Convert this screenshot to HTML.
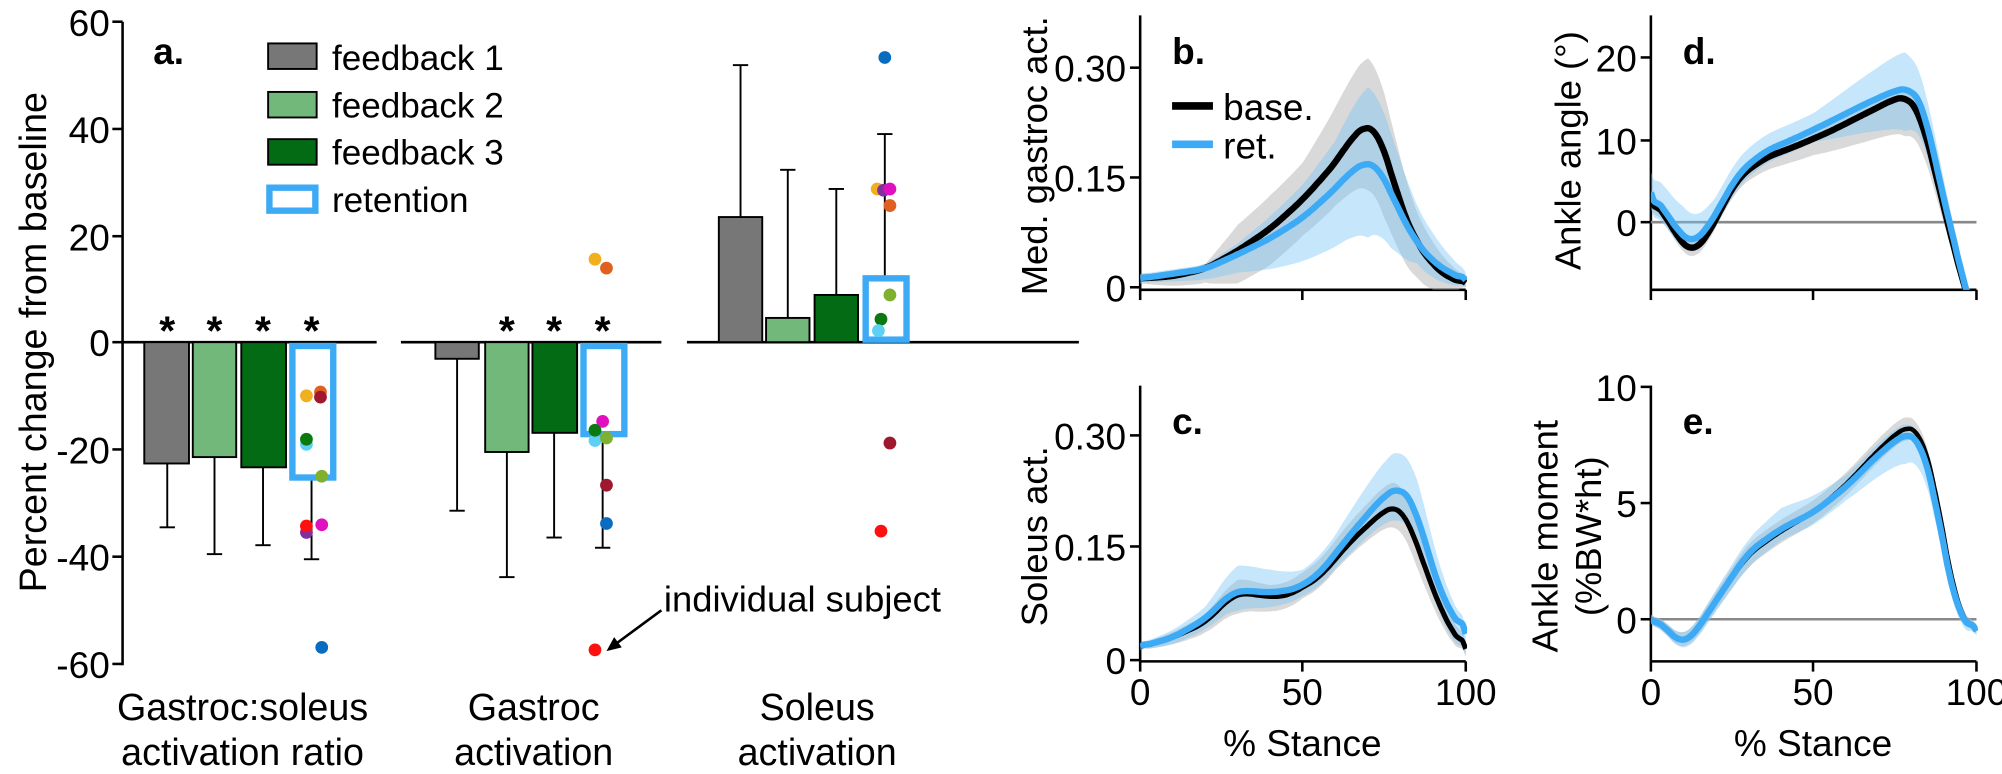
<!DOCTYPE html>
<html><head><meta charset="utf-8"><style>
html,body{margin:0;padding:0;background:#fff;}
svg{display:block;font-family:"Liberation Sans",sans-serif;}
.n{font-family:"Liberation Sans Narrow","Liberation Sans",sans-serif;}
</style></head><body>
<svg id="s" width="2002" height="774" viewBox="0 0 1568 606.2" preserveAspectRatio="none" xmlns="http://www.w3.org/2000/svg">
<defs>
<clipPath id="cb"><rect x="893" y="10" width="256" height="217"/></clipPath>
<clipPath id="cc"><rect x="893" y="300" width="256" height="219"/></clipPath>
<clipPath id="cd"><rect x="1293" y="10" width="256" height="217"/></clipPath>
<clipPath id="ce"><rect x="1293" y="290" width="256" height="229"/></clipPath>
</defs>
<g stroke="#000" stroke-width="2" fill="none">
<line x1="96" y1="17" x2="96" y2="521"/>
<line x1="88" y1="17" x2="96" y2="17"/><line x1="88" y1="101" x2="96" y2="101"/><line x1="88" y1="185" x2="96" y2="185"/><line x1="88" y1="268" x2="96" y2="268"/><line x1="88" y1="352" x2="96" y2="352"/><line x1="88" y1="436" x2="96" y2="436"/><line x1="88" y1="520" x2="96" y2="520"/>
<line x1="96" y1="268" x2="295" y2="268"/><line x1="314" y1="268" x2="518" y2="268"/><line x1="538" y1="268" x2="845" y2="268"/>
</g>
<g font-size="29" text-anchor="end">
<text x="86" y="28">60</text><text x="86" y="112">40</text><text x="86" y="196">20</text><text x="86" y="279">0</text><text x="86" y="363">-20</text><text x="86" y="447">-40</text><text x="86" y="531">-60</text>
</g>
<text transform="translate(36,268) rotate(-90)" font-size="29.5" text-anchor="middle">Percent change from baseline</text>
<text x="120" y="50" font-size="29" font-weight="bold">a.</text>
<g stroke="#000" stroke-width="1.5">
<rect x="210" y="34" width="38" height="20" fill="#777"/>
<rect x="210" y="72" width="38" height="20" fill="#72b87a"/>
<rect x="210" y="109" width="38" height="20" fill="#046b15"/>
</g>
<rect x="211" y="147" width="36" height="18" fill="#fff" stroke="#3daaf5" stroke-width="5"/>
<g font-size="27.5"><text x="260" y="55">feedback 1</text><text x="260" y="92">feedback 2</text><text x="260" y="129">feedback 3</text><text x="260" y="166">retention</text></g>
<g stroke="#000" stroke-width="1.5">
<line x1="131" y1="363" x2="131" y2="413"/><line x1="125" y1="413" x2="137" y2="413"/>
<line x1="168" y1="358" x2="168" y2="434"/><line x1="162" y1="434" x2="174" y2="434"/>
<line x1="206" y1="366" x2="206" y2="427"/><line x1="200" y1="427" x2="212" y2="427"/>
<line x1="244" y1="375" x2="244" y2="438"/><line x1="238" y1="438" x2="250" y2="438"/>
<line x1="358" y1="281" x2="358" y2="400"/><line x1="352" y1="400" x2="364" y2="400"/>
<line x1="397" y1="354" x2="397" y2="452"/><line x1="391" y1="452" x2="403" y2="452"/>
<line x1="434" y1="339" x2="434" y2="421"/><line x1="428" y1="421" x2="440" y2="421"/>
<line x1="472" y1="341" x2="472" y2="429"/><line x1="466" y1="429" x2="478" y2="429"/>
<line x1="580" y1="170" x2="580" y2="51"/><line x1="574" y1="51" x2="586" y2="51"/>
<line x1="617" y1="249" x2="617" y2="133"/><line x1="611" y1="133" x2="623" y2="133"/>
<line x1="655" y1="231" x2="655" y2="148"/><line x1="649" y1="148" x2="661" y2="148"/>
<line x1="693" y1="216" x2="693" y2="105"/><line x1="687" y1="105" x2="699" y2="105"/>
</g>
<g stroke="#000" stroke-width="1.5">
<rect x="113" y="268" width="35" height="95" fill="#777"/>
<rect x="151" y="268" width="34" height="90" fill="#72b87a"/>
<rect x="189" y="268" width="35" height="98" fill="#046b15"/>
<rect x="341" y="268" width="34" height="13" fill="#777"/>
<rect x="380" y="268" width="34" height="86" fill="#72b87a"/>
<rect x="417" y="268" width="35" height="71" fill="#046b15"/>
<rect x="563" y="170" width="34" height="98" fill="#777"/>
<rect x="600" y="249" width="34" height="19" fill="#72b87a"/>
<rect x="638" y="231" width="34" height="37" fill="#046b15"/>
</g>
<g fill="none" stroke="#3daaf5" stroke-width="5">
<rect x="229" y="271" width="32" height="103"/>
<rect x="457" y="271" width="32" height="69"/>
<rect x="678" y="218" width="32" height="48"/>
</g>
<g font-size="32" text-anchor="middle" font-weight="bold">
<text x="131" y="270">*</text><text x="168" y="270">*</text><text x="206" y="270">*</text><text x="244" y="270">*</text>
<text x="397" y="270">*</text><text x="434" y="270">*</text><text x="472" y="270">*</text>
</g>
<g>
<circle cx="240" cy="310" r="5" fill="#f0b020"/><circle cx="251" cy="307" r="5" fill="#e06020"/><circle cx="251" cy="311" r="5" fill="#a01830"/>
<circle cx="240" cy="348" r="5" fill="#5fd0f5"/><circle cx="240" cy="344" r="5" fill="#0a7a10"/><circle cx="252" cy="373" r="5" fill="#80b030"/>
<circle cx="240" cy="417" r="5" fill="#8030a0"/><circle cx="240" cy="412" r="5" fill="#ff1010"/><circle cx="252" cy="411" r="5" fill="#e010c0"/>
<circle cx="252" cy="507" r="5" fill="#0a6cc0"/>
<circle cx="466" cy="203" r="5" fill="#f0b020"/><circle cx="475" cy="210" r="5" fill="#e06020"/><circle cx="472" cy="330" r="5" fill="#e010c0"/>
<circle cx="466" cy="345" r="5" fill="#5fd0f5"/><circle cx="475" cy="343" r="5" fill="#80b030"/><circle cx="466" cy="337" r="5" fill="#0a7a10"/>
<circle cx="475" cy="380" r="5" fill="#a01830"/><circle cx="475" cy="410" r="5" fill="#0a6cc0"/><circle cx="466" cy="509" r="5" fill="#ff1010"/>
<circle cx="693" cy="45" r="5" fill="#0a6cc0"/><circle cx="687" cy="148" r="5" fill="#f0b020"/><circle cx="692" cy="149" r="5" fill="#8030a0"/><circle cx="697" cy="148" r="5" fill="#e010c0"/>
<circle cx="697" cy="161" r="5" fill="#e06020"/><circle cx="697" cy="231" r="5" fill="#80b030"/><circle cx="690" cy="250" r="5" fill="#0a7a10"/><circle cx="688" cy="259" r="5" fill="#5fd0f5"/>
<circle cx="697" cy="347" r="5" fill="#a01830"/><circle cx="690" cy="416" r="5" fill="#ff1010"/>
</g>
<line x1="518" y1="478" x2="480" y2="506" stroke="#000" stroke-width="2"/>
<polygon points="475,510 481,499 487,507" fill="#000"/>
<text x="520" y="479" font-size="28.5">individual subject</text>
<g font-size="29.5" text-anchor="middle">
<text x="190" y="564">Gastroc:soleus</text><text x="190" y="599">activation ratio</text>
<text x="418" y="564">Gastroc</text><text x="418" y="599">activation</text>
<text x="640" y="564">Soleus</text><text x="640" y="599">activation</text>
</g>
<g stroke="#000" stroke-width="2" fill="none">
<line x1="893" y1="12" x2="893" y2="227"/><line x1="893" y1="227" x2="1148" y2="227"/>
<line x1="885" y1="53" x2="893" y2="53"/><line x1="885" y1="139" x2="893" y2="139"/><line x1="885" y1="225" x2="893" y2="225"/>
<line x1="893" y1="227" x2="893" y2="235"/><line x1="1020" y1="227" x2="1020" y2="235"/><line x1="1148" y1="227" x2="1148" y2="235"/>
<line x1="893" y1="302" x2="893" y2="518"/><line x1="893" y1="518" x2="1148" y2="518"/>
<line x1="885" y1="341" x2="893" y2="341"/><line x1="885" y1="428" x2="893" y2="428"/><line x1="885" y1="517" x2="893" y2="517"/>
<line x1="893" y1="518" x2="893" y2="526"/><line x1="1020" y1="518" x2="1020" y2="526"/><line x1="1148" y1="518" x2="1148" y2="526"/>
<line x1="1293" y1="12" x2="1293" y2="227"/><line x1="1293" y1="227" x2="1548" y2="227"/>
<line x1="1285" y1="45" x2="1293" y2="45"/><line x1="1285" y1="110" x2="1293" y2="110"/><line x1="1285" y1="174" x2="1293" y2="174"/>
<line x1="1293" y1="227" x2="1293" y2="235"/><line x1="1420" y1="227" x2="1420" y2="235"/><line x1="1548" y1="227" x2="1548" y2="235"/>
<line x1="1293" y1="302" x2="1293" y2="518"/><line x1="1293" y1="518" x2="1548" y2="518"/>
<line x1="1285" y1="303" x2="1293" y2="303"/><line x1="1285" y1="394" x2="1293" y2="394"/><line x1="1285" y1="485" x2="1293" y2="485"/>
<line x1="1293" y1="518" x2="1293" y2="526"/><line x1="1420" y1="518" x2="1420" y2="526"/><line x1="1548" y1="518" x2="1548" y2="526"/>
</g>
<g stroke="#888" stroke-width="2"><line x1="1293" y1="174" x2="1548" y2="174"/><line x1="1293" y1="485" x2="1548" y2="485"/></g>
<g class="n" font-size="29" text-anchor="end">
<text x="882" y="64">0.30</text><text x="882" y="150">0.15</text><text x="882" y="236">0</text>
<text x="882" y="352">0.30</text><text x="882" y="439">0.15</text><text x="882" y="528">0</text>
<text x="1282" y="56">20</text><text x="1282" y="121">10</text><text x="1282" y="185">0</text>
<text x="1282" y="314">10</text><text x="1282" y="405">5</text><text x="1282" y="496">0</text>
</g>
<g class="n" font-size="29" text-anchor="middle">
<text x="893" y="552">0</text><text x="1020" y="552">50</text><text x="1148" y="552">100</text>
<text x="1293" y="552">0</text><text x="1420" y="552">50</text><text x="1548" y="552">100</text>
<text x="1020" y="592">% Stance</text><text x="1420" y="592">% Stance</text>
</g>
<g font-size="28.5" text-anchor="middle">
<text transform="translate(820,122) rotate(-90)">Med. gastroc act.</text>
<text transform="translate(820,420) rotate(-90)">Soleus act.</text>
<text transform="translate(1238,118) rotate(-90)">Ankle angle (°)</text>
<text transform="translate(1220,420) rotate(-90)">Ankle moment</text>
<text transform="translate(1254,420) rotate(-90)">(%BW*ht)</text>
</g>
<g font-size="29" font-weight="bold"><text x="918" y="50">b.</text><text x="918" y="340">c.</text><text x="1318" y="50">d.</text><text x="1318" y="340">e.</text></g>
<line x1="918" y1="83" x2="950" y2="83" stroke="#000" stroke-width="6"/>
<line x1="918" y1="113" x2="950" y2="113" stroke="#3daaf5" stroke-width="6"/>
<g class="n" font-size="29"><text x="958" y="94">base.</text><text x="958" y="124">ret.</text></g>
<g id="curves"></g>
</svg>
<script>
function interp(arr,x){for(let i=0;i<arr.length-1;i++){if(x<=arr[i+1][0]){const t=(x-arr[i][0])/(arr[i+1][0]-arr[i][0]);return arr[i][1]+t*(arr[i+1][1]-arr[i][1]);}}return arr[arr.length-1][1];}
function cr(pts){let d="M"+pts[0][0].toFixed(1)+","+pts[0][1].toFixed(1);for(let i=0;i<pts.length-1;i++){const p0=pts[Math.max(0,i-1)],p1=pts[i],p2=pts[i+1],p3=pts[Math.min(pts.length-1,i+2)];const c1=[p1[0]+(p2[0]-p0[0])/6,p1[1]+(p2[1]-p0[1])/6],c2=[p2[0]-(p3[0]-p1[0])/6,p2[1]-(p3[1]-p1[1])/6];d+="C"+c1.map(v=>v.toFixed(1)).join(",")+" "+c2.map(v=>v.toFixed(1)).join(",")+" "+p2.map(v=>v.toFixed(1)).join(",");}return d;}
function smooth(arr){const out=[];for(let x=0;x<=100;x+=1){out.push([x,interp(arr,x)]);}
const s=out.map((p,i)=>{let a=0,n=0;for(let k=-3;k<=3;k++){const j=i+k;if(j>=0&&j<out.length){a+=out[j][1];n++;}}return [p[0],a/n];});s[0]=out[0];s[100]=out[100];return s;}
const g=document.getElementById("curves");let html="";
function panel(clip,x0,x1,yf,base,ret,bu,bl,ru,rl,bw){
 const X=p=>x0+p/100*(x1-x0);
 const tp=a=>a.map(p=>[X(p[0]),yf(p[1])]);
 const b=smooth(base),r=smooth(ret);
 function band(c,u,l,fill){const up=c.map(p=>[p[0],p[1]+interp(u,p[0])]),lo=c.map(p=>[p[0],p[1]-interp(l,p[0])]).reverse();const a=tp(up),bb=tp(lo);html+=`<path clip-path="url(#${clip})" d="${cr(a)} L${bb[0][0].toFixed(1)},${bb[0][1].toFixed(1)} ${cr(bb).slice(1).replace(/^[^C]*/,'')}Z" fill="${fill}"/>`;}
 band(b,bu,bl,"rgba(170,170,170,0.45)");
 band(r,ru,rl,"rgba(120,195,245,0.42)");
 html+=`<path clip-path="url(#${clip})" d="${cr(tp(b))}" fill="none" stroke="#000" stroke-width="${bw}"/>`;
 html+=`<path clip-path="url(#${clip})" d="${cr(tp(r))}" fill="none" stroke="#3daaf5" stroke-width="5"/>`;
}
const yb=v=>225-v*(172/0.30);
panel("cb",893,1148,yb,
[[0,0.012],[10,0.015],[20,0.025],[30,0.05],[40,0.08],[50,0.12],[60,0.17],[65,0.205],[70,0.224],[73,0.212],[77,0.16],[80,0.11],[85,0.06],[90,0.03],[95,0.012],[100,0.006]],
[[0,0.012],[20,0.025],[30,0.045],[40,0.067],[50,0.095],[60,0.135],[65,0.16],[70,0.172],[73,0.166],[77,0.13],[80,0.1],[85,0.06],[90,0.035],[95,0.02],[100,0.01]],
[[0,0.006],[20,0.006],[30,0.035],[40,0.045],[50,0.05],[60,0.075],[70,0.095],[75,0.08],[85,0.04],[100,0.008]],
[[0,0.007],[20,0.02],[30,0.045],[40,0.05],[50,0.05],[60,0.06],[70,0.085],[75,0.09],[85,0.05],[100,0.006]],
[[0,0.006],[20,0.006],[30,0.015],[50,0.045],[60,0.065],[70,0.105],[75,0.09],[85,0.05],[100,0.01]],
[[0,0.006],[20,0.015],[30,0.025],[50,0.06],[60,0.08],[70,0.1],[77,0.075],[85,0.03],[100,0.01]],5);
const yc=v=>517-v*(176/0.30);
panel("cc",893,1148,yc,
[[0,0.017],[10,0.03],[20,0.05],[28,0.085],[32,0.09],[38,0.085],[45,0.085],[55,0.11],[65,0.16],[75,0.2],[79,0.206],[82,0.19],[87,0.13],[92,0.07],[97,0.03],[100,0.015]],
[[0,0.018],[10,0.03],[20,0.055],[28,0.09],[32,0.093],[40,0.09],[48,0.095],[55,0.115],[65,0.17],[75,0.22],[80,0.232],[84,0.21],[88,0.15],[93,0.08],[100,0.035]],
[[0,0.004],[20,0.01],[30,0.02],[40,0.015],[50,0.02],[60,0.025],[70,0.03],[78,0.035],[85,0.03],[100,0.01]],
[[0,0.004],[20,0.015],[30,0.025],[40,0.02],[50,0.015],[60,0.015],[70,0.02],[78,0.025],[85,0.03],[100,0.01]],
[[0,0.004],[20,0.015],[30,0.035],[40,0.03],[50,0.02],[60,0.025],[70,0.04],[78,0.05],[85,0.05],[100,0.008]],
[[0,0.004],[20,0.015],[30,0.025],[40,0.02],[50,0.015],[60,0.02],[70,0.03],[78,0.04],[85,0.04],[100,0.03]],4);
const yd=v=>174-v*6.45;
panel("cd",1293,1548,yd,
[[0,3],[5,0.5],[10,-3],[13,-3.6],[17,-2],[22,2],[27,5.5],[35,7.8],[45,9.3],[55,11],[65,13],[75,15],[79,15.3],[83,13],[88,5],[93,-3],[97,-9],[100,-12]],
[[0,3.6],[5,1],[10,-2],[13,-2.5],[17,-1],[22,2.5],[27,6],[35,8.6],[45,10.3],[55,12.2],[65,14.2],[75,16],[80,16.3],[84,14],[88,6],[93,-2],[97,-9],[100,-12]],
[[0,1],[20,1],[50,1],[78,1.5],[97,0.5],[100,0.5]],
[[0,1],[20,1],[50,2],[78,4.5],[97,0.5],[100,0.5]],
[[0,2.5],[10,3.5],[20,2],[50,2],[78,4.5],[97,1],[100,1]],
[[0,2],[10,1.5],[20,1.5],[50,1.5],[78,5],[97,1],[100,1]],5);
const ye=v=>485-v*18.2;
panel("ce",1293,1548,ye,
[[0,0],[3,-0.1],[7,-0.8],[10,-1],[13,-0.7],[20,0.8],[30,2.8],[40,3.8],[50,4.6],[60,5.8],[70,7.3],[77,8.2],[80,8.3],[83,8],[87,6],[90,3.5],[94,0.5],[97,-0.2],[100,-0.5]],
[[0,0],[3,-0.1],[7,-0.8],[10,-1.05],[13,-0.7],[20,0.8],[30,2.9],[40,3.9],[50,4.6],[60,5.7],[70,7.1],[77,7.9],[80,8.0],[83,7.6],[87,5.5],[90,3],[94,0.3],[97,-0.2],[100,-0.5]],
[[0,0.2],[30,0.5],[50,0.5],[78,0.5],[100,0.2]],
[[0,0.2],[30,0.5],[50,0.5],[78,0.5],[100,0.2]],
[[0,0.2],[30,0.6],[40,0.9],[60,0.5],[78,0.5],[100,0.2]],
[[0,0.2],[30,0.6],[40,0.5],[60,0.6],[78,1.2],[100,0.2]],3.5);
g.innerHTML=html;
</script>
</body></html>
